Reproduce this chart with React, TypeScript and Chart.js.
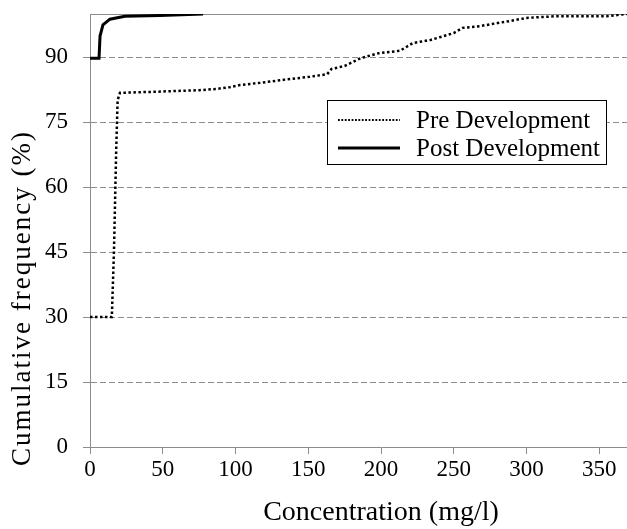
import React, { useEffect, useRef } from "react";
import { Chart, registerables } from "chart.js";

Chart.register(...registerables);

// ---- data ----
const seriesLabels = ["Pre Development", "Post Development"];
const preX = [0, 15, 16.5, 18, 19, 20.6, 41, 75, 87, 96, 103, 117, 133, 151, 163, 166, 175, 186, 199, 213, 222, 234, 241, 250, 256, 268, 280, 289, 300, 321, 355, 369];
const preY = [30, 30, 45.5, 68.6, 80.1, 81.8, 82, 82.4, 82.7, 83.1, 83.6, 84.1, 84.8, 85.5, 86.1, 87.3, 88, 89.8, 91, 91.5, 93.3, 94, 94.7, 95.6, 96.8, 97.2, 97.9, 98.4, 99.1, 99.5, 99.5, 100];
const postX = [0, 6.2, 6.9, 8.9, 13.7, 24, 48, 77.7];
const postY = [89.8, 89.8, 94.9, 97.5, 98.8, 99.5, 99.65, 100];
const xTicks = [0, 50, 100, 150, 200, 250, 300, 350];
const yTicks = [0, 15, 30, 45, 60, 75, 90];
const xTitle = "Concentration (mg/l)";
const yTitle = "Cumulative frequency (%)";

const FONT = "'Liberation Serif', 'Times New Roman', serif";
const GRID = "#8c8c8c";

const framePlugin = {
  id: "frame",
  beforeDatasetsDraw(chart: any) {
    const { ctx, chartArea: a } = chart;
    ctx.save();
    ctx.strokeStyle = GRID;
    ctx.lineWidth = 1;
    ctx.beginPath();
    ctx.moveTo(a.left, a.top + 0.5);
    ctx.lineTo(a.right, a.top + 0.5);
    ctx.stroke();
    ctx.restore();
  },
};

const yTitlePlugin = {
  id: "yTitle",
  afterDraw(chart: any) {
    const { ctx } = chart;
    ctx.save();
    ctx.translate(23, 298);
    ctx.rotate(-Math.PI / 2);
    ctx.fillStyle = "#000";
    ctx.font = `27px ${FONT}`;
    (ctx as any).letterSpacing = "2px";
    ctx.textAlign = "center";
    ctx.textBaseline = "middle";
    ctx.fillText(yTitle, 0, 0);
    ctx.restore();
  },
};

const legendPlugin = {
  id: "boxLegend",
  afterDatasetsDraw(chart: any) {
    const { ctx } = chart;
    const bx = 327, by = 100, bw = 279, bh = 64;
    ctx.save();
    ctx.fillStyle = "#fff";
    ctx.fillRect(bx, by, bw, bh);
    ctx.strokeStyle = "#000";
    ctx.lineWidth = 1;
    ctx.strokeRect(bx + 0.5, by + 0.5, bw, bh);
    const rows = [by + 20, by + 48];
    chart.data.datasets.forEach((ds: any, i: number) => {
      const y = rows[i];
      ctx.strokeStyle = "#000";
      ctx.lineWidth = i === 0 ? 1.8 : 3;
      ctx.setLineDash(i === 0 ? [1.8, 1.6] : []);
      ctx.beginPath();
      ctx.moveTo(bx + 11, y);
      ctx.lineTo(bx + 73, y);
      ctx.stroke();
      ctx.setLineDash([]);
      ctx.fillStyle = "#000";
      ctx.font = `25px ${FONT}`;
      ctx.textAlign = "left";
      ctx.textBaseline = "middle";
      ctx.fillText(ds.label, bx + 89, y + 1);
    });
    ctx.restore();
  },
};

export default function App() {
  const ref = useRef<HTMLCanvasElement | null>(null);
  useEffect(() => {
    document.body.style.margin = "0";
    const canvas = ref.current!;
    const chart = new Chart(canvas, {
      type: "line",
      data: {
        datasets: [
          {
            label: seriesLabels[0],
            data: preX.map((x, i) => ({ x, y: preY[i] })),
            borderColor: "#000",
            borderWidth: 2.5,
            borderDash: [2.5, 2.5],
            pointRadius: 0,
            tension: 0,
            fill: false,
          },
          {
            label: seriesLabels[1],
            data: postX.map((x, i) => ({ x, y: postY[i] })),
            borderColor: "#000",
            borderWidth: 3,
            pointRadius: 0,
            tension: 0,
            fill: false,
          },
        ],
      },
      options: {
        animation: false,
        responsive: false,
        devicePixelRatio: 1,
        layout: { padding: { top: 14, left: 0, right: 8, bottom: 0 } },
        plugins: { legend: { display: false }, tooltip: { enabled: false } },
        scales: {
          x: {
            type: "linear",
            min: 0,
            max: 400,
            afterBuildTicks: (s: any) => {
              s.ticks = xTicks.map((v) => ({ value: v }));
            },
            afterFit: (s: any) => {
              s.height = 82;
              s.paddingLeft = 0;
              s.paddingRight = 0;
            },
            grid: { drawOnChartArea: false, drawTicks: true, tickLength: 7, color: GRID, tickColor: GRID },
            border: { display: true, color: GRID, width: 1 },
            ticks: { color: "#000", font: { family: FONT, size: 23 }, padding: 2, maxRotation: 0, autoSkip: false },
            title: { display: true, text: xTitle, color: "#000", font: { family: FONT, size: 28 }, padding: { top: 0, bottom: 0 } },
          },
          y: {
            type: "linear",
            min: 0,
            max: 100,
            afterBuildTicks: (s: any) => {
              s.ticks = yTicks.map((v) => ({ value: v }));
            },
            afterFit: (s: any) => {
              s.width = 90;
              s.paddingTop = 0;
              s.paddingBottom = 0;
            },
            grid: {
              color: (c: any) => (c.tick && c.tick.value === 0 ? "rgba(0,0,0,0)" : GRID),
              tickColor: GRID,
              tickLength: 7,
              lineWidth: 1,
            },
            border: { display: true, color: GRID, width: 1, dash: [6, 3] },
            ticks: { color: "#000", font: { family: FONT, size: 23 }, padding: 15, autoSkip: false },
            title: { display: false, text: yTitle },
          },
        },
      },
      plugins: [framePlugin, legendPlugin, yTitlePlugin],
    });
    return () => chart.destroy();
  }, []);
  return (
    <div style={{ position: "absolute", left: 0, top: 0, width: 627, height: 529, overflow: "hidden", background: "#fff" }}>
      <canvas ref={ref} width={680} height={529} style={{ width: 680, height: 529, display: "block" }} />
    </div>
  );
}
